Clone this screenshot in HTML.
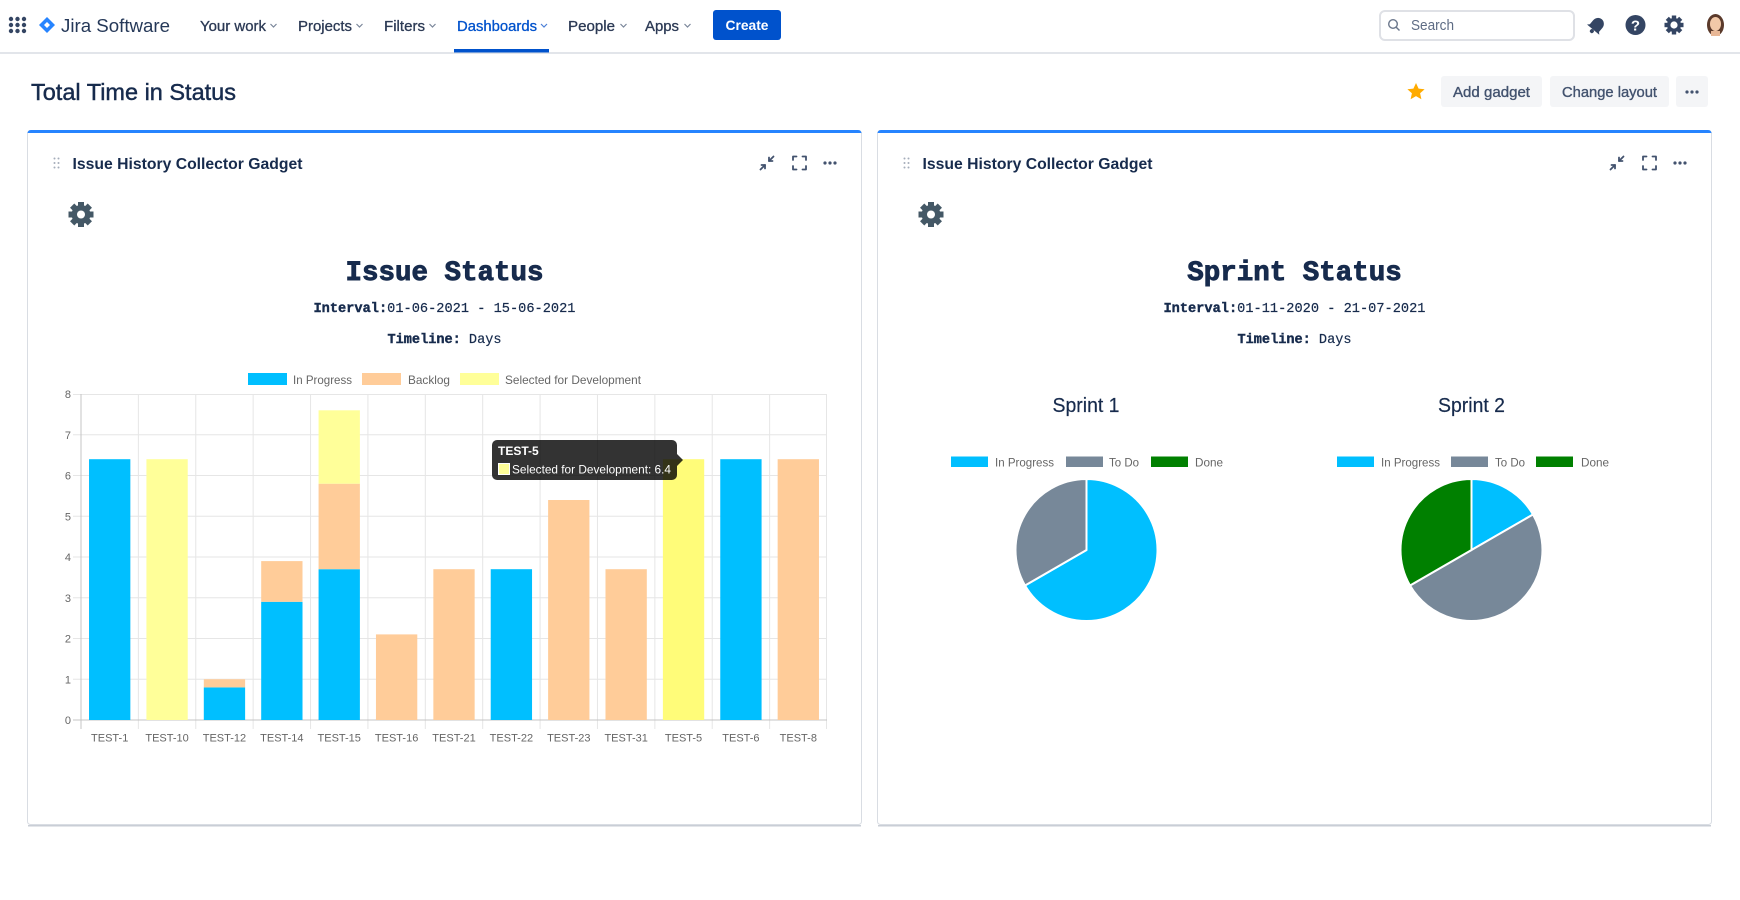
<!DOCTYPE html>
<html>
<head>
<meta charset="utf-8">
<style>
  html,body{margin:0;padding:0;background:#fff;}
  body{width:1740px;height:900px;overflow:hidden;}
  svg{display:block;}
  .sans{font-family:"Liberation Sans",Arial,sans-serif;}
  .mono{font-family:"Liberation Mono","Courier New",monospace;}
</style>
</head>
<body>
<svg width="1740" height="900" viewBox="0 0 1740 900" xmlns="http://www.w3.org/2000/svg">
  <rect x="0" y="0" width="1740" height="900" fill="#ffffff"/>

  <!-- ===== HEADER ===== -->
  <rect x="0" y="52" width="1740" height="2" fill="#e2e5ea"/>
  <g fill="#344563">
    <circle cx="11" cy="19" r="2.2"/><circle cx="17.5" cy="19" r="2.2"/><circle cx="24" cy="19" r="2.2"/>
    <circle cx="11" cy="25" r="2.2"/><circle cx="17.5" cy="25" r="2.2"/><circle cx="24" cy="25" r="2.2"/>
    <circle cx="11" cy="31" r="2.2"/><circle cx="17.5" cy="31" r="2.2"/><circle cx="24" cy="31" r="2.2"/>
  </g>
  <polygon points="47,17 55,25 47,33 39,25" fill="#2684ff"/>
  <polygon points="47,22 50,25 47,28 44,25" fill="#ffffff"/>
  <text class="sans" x="61" y="32" font-size="18.5" fill="#253858" textLength="109" lengthAdjust="spacingAndGlyphs">Jira Software</text>

  <g class="sans" font-size="14.5" fill="#2c3a55" stroke="#2c3a55" stroke-width="0.3">
    <text x="200" y="31" textLength="66" lengthAdjust="spacingAndGlyphs">Your work</text>
    <text x="298" y="31" textLength="54" lengthAdjust="spacingAndGlyphs">Projects</text>
    <text x="384" y="31" textLength="41" lengthAdjust="spacingAndGlyphs">Filters</text>
    <text x="568" y="31" textLength="47" lengthAdjust="spacingAndGlyphs">People</text>
    <text x="645" y="31" textLength="34" lengthAdjust="spacingAndGlyphs">Apps</text>
  </g>
  <text class="sans" x="457" y="31" font-size="14.5" fill="#0052cc" stroke="#0052cc" stroke-width="0.3" textLength="80" lengthAdjust="spacingAndGlyphs">Dashboards</text>
  <g fill="none" stroke="#7a869a" stroke-width="1.2">
    <polyline points="270.5,24 273.5,27 276.5,24"/>
    <polyline points="356.5,24 359.5,27 362.5,24"/>
    <polyline points="429.5,24 432.5,27 435.5,24"/>
    <polyline points="620.5,24 623.5,27 626.5,24"/>
    <polyline points="684.5,24 687.5,27 690.5,24"/>
  </g>
  <polyline points="541,24 544,27 547,24" fill="none" stroke="#4c7fd6" stroke-width="1.2"/>
  <rect x="454" y="49" width="95" height="3.5" fill="#0052cc"/>
  <rect x="713" y="10" width="68" height="30" rx="3" fill="#0052cc"/>
  <text class="sans" x="747" y="30" font-size="14" font-weight="bold" fill="#ffffff" text-anchor="middle" textLength="43" lengthAdjust="spacingAndGlyphs">Create</text>

  <rect x="1380" y="11" width="194" height="29" rx="5" fill="#ffffff" stroke="#dfe1e6" stroke-width="2"/>
  <circle cx="1393" cy="24" r="4.3" fill="none" stroke="#6b778c" stroke-width="1.4"/>
  <line x1="1396.2" y1="27.2" x2="1399.5" y2="30.5" stroke="#6b778c" stroke-width="1.5"/>
  <text class="sans" x="1411" y="30" font-size="15" fill="#5e6c84" textLength="43" lengthAdjust="spacingAndGlyphs">Search</text>
  <g transform="translate(1597,25) rotate(40)" fill="#344563">
    <path d="M-6,4 L-6,-1 A6,6.5 0 0 1 6,-1 L6,4 L8,6 L-8,6 Z"/>
    <circle cx="0" cy="8" r="2"/>
  </g>
  <circle cx="1635.5" cy="25" r="10" fill="#344563"/>
  <text class="sans" x="1635.5" y="30.5" font-size="15" font-weight="bold" fill="#ffffff" text-anchor="middle">?</text>
  <g transform="translate(1674,25)" fill="#344563">
    <circle r="7"/>
    <rect x="-2.2" y="-9.5" width="4.4" height="5"/>
    <rect x="-2.2" y="-9.5" width="4.4" height="5" transform="rotate(45)"/>
    <rect x="-2.2" y="-9.5" width="4.4" height="5" transform="rotate(90)"/>
    <rect x="-2.2" y="-9.5" width="4.4" height="5" transform="rotate(135)"/>
    <rect x="-2.2" y="-9.5" width="4.4" height="5" transform="rotate(180)"/>
    <rect x="-2.2" y="-9.5" width="4.4" height="5" transform="rotate(225)"/>
    <rect x="-2.2" y="-9.5" width="4.4" height="5" transform="rotate(270)"/>
    <rect x="-2.2" y="-9.5" width="4.4" height="5" transform="rotate(315)"/>
    <circle r="3.6" fill="#ffffff"/>
  </g>
  <ellipse cx="1715.5" cy="25" rx="8.5" ry="11" fill="#5b3a2b"/>
  <ellipse cx="1715.5" cy="24" rx="5.5" ry="7" fill="#f2c9a8"/>
  <rect x="1711" y="31" width="9" height="5" fill="#e8b796"/>

  <!-- ===== PAGE TITLE ROW ===== -->
  <text class="sans" x="31" y="100" font-size="23.5" fill="#172b4d" stroke="#172b4d" stroke-width="0.45" textLength="205" lengthAdjust="spacingAndGlyphs">Total Time in Status</text>
  <polygon points="1416,83 1418.6,88.6 1424.6,89.2 1420.1,93.2 1421.4,99.2 1416,96.1 1410.6,99.2 1411.9,93.2 1407.4,89.2 1413.4,88.6" fill="#ffab00"/>
  <rect x="1441" y="76" width="101" height="31" rx="3" fill="#f4f5f7"/>
  <text class="sans" x="1491.5" y="97" font-size="14.5" fill="#42526e" stroke="#42526e" stroke-width="0.35" text-anchor="middle" textLength="77" lengthAdjust="spacingAndGlyphs">Add gadget</text>
  <rect x="1550" y="76" width="119" height="31" rx="3" fill="#f4f5f7"/>
  <text class="sans" x="1609.5" y="97" font-size="14.5" fill="#42526e" stroke="#42526e" stroke-width="0.35" text-anchor="middle" textLength="95" lengthAdjust="spacingAndGlyphs">Change layout</text>
  <rect x="1676" y="76" width="32" height="31" rx="3" fill="#f4f5f7"/>
  <g fill="#42526e"><circle cx="1687" cy="92" r="1.6"/><circle cx="1692" cy="92" r="1.6"/><circle cx="1697" cy="92" r="1.6"/></g>

  <!-- ===== PANELS ===== -->
  <rect x="27.5" y="130.5" width="834" height="694" rx="3" fill="#ffffff" stroke="#d9dde3" stroke-width="1"/>
  <rect x="28" y="825" width="833" height="1.5" fill="#c9ced6"/>
  <path d="M27.5,134 Q27.5,130 31,130 L858,130 Q861.5,130 861.5,134 L861.5,133 L27.5,133 Z" fill="#2684ff"/>
  <rect x="877.5" y="130.5" width="834" height="694" rx="3" fill="#ffffff" stroke="#d9dde3" stroke-width="1"/>
  <rect x="878" y="825" width="833" height="1.5" fill="#c9ced6"/>
  <path d="M877.5,134 Q877.5,130 881,130 L1708,130 Q1711.5,130 1711.5,134 L1711.5,133 L877.5,133 Z" fill="#2684ff"/>

  <g id="phead">
    <g fill="#a5adba">
      <circle cx="54.5" cy="158.5" r="1"/><circle cx="58.5" cy="158.5" r="1"/>
      <circle cx="54.5" cy="163" r="1"/><circle cx="58.5" cy="163" r="1"/>
      <circle cx="54.5" cy="167.5" r="1"/><circle cx="58.5" cy="167.5" r="1"/>
    </g>
    <text class="sans" x="72.5" y="169" font-size="15.7" font-weight="bold" fill="#172b4d" textLength="230" lengthAdjust="spacingAndGlyphs">Issue History Collector Gadget</text>
    <g fill="none" stroke="#42526e" stroke-width="1.8" stroke-linecap="round" stroke-linejoin="round">
      <line x1="773.5" y1="156.5" x2="769" y2="161"/>
      <polyline points="769,157.5 769,161 772.5,161"/>
      <line x1="760.5" y1="169.5" x2="765" y2="165"/>
      <polyline points="761.5,165 765,165 765,168.5"/>
      <polyline points="793,160 793,156.5 796.5,156.5"/>
      <polyline points="802.5,156.5 806,156.5 806,160"/>
      <polyline points="806,166 806,169.5 802.5,169.5"/>
      <polyline points="796.5,169.5 793,169.5 793,166"/>
    </g>
    <g fill="#42526e"><circle cx="825" cy="163" r="1.6"/><circle cx="830" cy="163" r="1.6"/><circle cx="835" cy="163" r="1.6"/></g>
    <g transform="translate(81,214.5)" fill="#445866">
      <circle r="9.5"/>
      <rect x="-3" y="-12.5" width="6" height="6"/>
      <rect x="-3" y="-12.5" width="6" height="6" transform="rotate(45)"/>
      <rect x="-3" y="-12.5" width="6" height="6" transform="rotate(90)"/>
      <rect x="-3" y="-12.5" width="6" height="6" transform="rotate(135)"/>
      <rect x="-3" y="-12.5" width="6" height="6" transform="rotate(180)"/>
      <rect x="-3" y="-12.5" width="6" height="6" transform="rotate(225)"/>
      <rect x="-3" y="-12.5" width="6" height="6" transform="rotate(270)"/>
      <rect x="-3" y="-12.5" width="6" height="6" transform="rotate(315)"/>
      <circle r="4" fill="#ffffff"/>
    </g>
  </g>
  <use href="#phead" transform="translate(850,0)"/>

  <!-- ===== LEFT CHART ===== -->
  <text class="mono" x="444.5" y="280" font-size="27.5" font-weight="bold" fill="#172b4d" stroke="#172b4d" stroke-width="0.9" text-anchor="middle" textLength="198" lengthAdjust="spacingAndGlyphs">Issue Status</text>
  <text class="mono" x="444.5" y="312" font-size="13.6" fill="#172b4d" stroke="#172b4d" stroke-width="0.2" text-anchor="middle" textLength="262" lengthAdjust="spacingAndGlyphs"><tspan font-weight="bold" stroke-width="0.4">Interval:</tspan>01-06-2021 - 15-06-2021</text>
  <text class="mono" x="444.5" y="343" font-size="13.6" fill="#172b4d" stroke="#172b4d" stroke-width="0.2" text-anchor="middle" textLength="114" lengthAdjust="spacingAndGlyphs"><tspan font-weight="bold" stroke-width="0.4">Timeline:</tspan> Days</text>

  <rect x="248" y="373" width="39" height="12" fill="#00bfff"/>
  <text class="sans" x="293" y="384" font-size="11.8" fill="#666666" textLength="59" lengthAdjust="spacingAndGlyphs">In Progress</text>
  <rect x="362" y="373" width="39" height="12" fill="#ffcc99"/>
  <text class="sans" x="408" y="384" font-size="11.8" fill="#666666" textLength="42" lengthAdjust="spacingAndGlyphs">Backlog</text>
  <rect x="460" y="373" width="39" height="12" fill="#ffff99"/>
  <text class="sans" x="505" y="384" font-size="11.8" fill="#666666" textLength="136" lengthAdjust="spacingAndGlyphs">Selected for Development</text>

  <g stroke="#e6e6e6" stroke-width="1">
    <line x1="73" y1="394.5" x2="827" y2="394.5"/>
    <line x1="73" y1="434.75" x2="827" y2="434.75"/>
    <line x1="73" y1="475.5" x2="827" y2="475.5"/>
    <line x1="73" y1="516.25" x2="827" y2="516.25"/>
    <line x1="73" y1="557" x2="827" y2="557"/>
    <line x1="73" y1="597.75" x2="827" y2="597.75"/>
    <line x1="73" y1="638.5" x2="827" y2="638.5"/>
    <line x1="73" y1="679.25" x2="827" y2="679.25"/>
  </g>
  <g stroke="#e6e6e6" stroke-width="1">
    <line x1="138.38" y1="394" x2="138.38" y2="729"/>
    <line x1="195.77" y1="394" x2="195.77" y2="729"/>
    <line x1="253.15" y1="394" x2="253.15" y2="729"/>
    <line x1="310.54" y1="394" x2="310.54" y2="729"/>
    <line x1="367.92" y1="394" x2="367.92" y2="729"/>
    <line x1="425.31" y1="394" x2="425.31" y2="729"/>
    <line x1="482.69" y1="394" x2="482.69" y2="729"/>
    <line x1="540.08" y1="394" x2="540.08" y2="729"/>
    <line x1="597.46" y1="394" x2="597.46" y2="729"/>
    <line x1="654.85" y1="394" x2="654.85" y2="729"/>
    <line x1="712.23" y1="394" x2="712.23" y2="729"/>
    <line x1="769.62" y1="394" x2="769.62" y2="729"/>
    <line x1="826.5" y1="394" x2="826.5" y2="729"/>
  </g>
  <line x1="81" y1="394" x2="81" y2="729" stroke="#c4c4c4" stroke-width="1"/>
  <line x1="73" y1="720" x2="827" y2="720" stroke="#c4c4c4" stroke-width="1"/>

  <g class="sans" font-size="11" fill="#666666" text-anchor="end">
    <text x="71" y="398">8</text>
    <text x="71" y="438.75">7</text>
    <text x="71" y="479.5">6</text>
    <text x="71" y="520.25">5</text>
    <text x="71" y="561">4</text>
    <text x="71" y="601.75">3</text>
    <text x="71" y="642.5">2</text>
    <text x="71" y="683.25">1</text>
    <text x="71" y="724">0</text>
  </g>
  <g class="sans" font-size="11" fill="#666666" text-anchor="middle">
    <text x="109.69" y="741.5">TEST-1</text>
    <text x="167.08" y="741.5">TEST-10</text>
    <text x="224.46" y="741.5">TEST-12</text>
    <text x="281.85" y="741.5">TEST-14</text>
    <text x="339.23" y="741.5">TEST-15</text>
    <text x="396.62" y="741.5">TEST-16</text>
    <text x="454.0" y="741.5">TEST-21</text>
    <text x="511.38" y="741.5">TEST-22</text>
    <text x="568.77" y="741.5">TEST-23</text>
    <text x="626.15" y="741.5">TEST-31</text>
    <text x="683.54" y="741.5">TEST-5</text>
    <text x="740.92" y="741.5">TEST-6</text>
    <text x="798.31" y="741.5">TEST-8</text>
  </g>

  <g>
    <rect x="89.03" y="459.2" width="41.32" height="260.8" fill="#00bfff"/>
    <rect x="146.42" y="459.2" width="41.32" height="260.8" fill="#ffff99"/>
    <rect x="203.80" y="687.4" width="41.32" height="32.6" fill="#00bfff"/>
    <rect x="203.80" y="679.25" width="41.32" height="8.15" fill="#ffcc99"/>
    <rect x="261.19" y="601.8" width="41.32" height="118.2" fill="#00bfff"/>
    <rect x="261.19" y="561.1" width="41.32" height="40.7" fill="#ffcc99"/>
    <rect x="318.57" y="569.2" width="41.32" height="150.8" fill="#00bfff"/>
    <rect x="318.57" y="483.7" width="41.32" height="85.5" fill="#ffcc99"/>
    <rect x="318.57" y="410.3" width="41.32" height="73.4" fill="#ffff99"/>
    <rect x="375.96" y="634.4" width="41.32" height="85.6" fill="#ffcc99"/>
    <rect x="433.34" y="569.2" width="41.32" height="150.8" fill="#ffcc99"/>
    <rect x="490.72" y="569.2" width="41.32" height="150.8" fill="#00bfff"/>
    <rect x="548.11" y="500" width="41.32" height="220" fill="#ffcc99"/>
    <rect x="605.49" y="569.2" width="41.32" height="150.8" fill="#ffcc99"/>
    <rect x="662.88" y="459.2" width="41.32" height="260.8" fill="#fffc79"/>
    <rect x="720.26" y="459.2" width="41.32" height="260.8" fill="#00bfff"/>
    <rect x="777.65" y="459.2" width="41.32" height="260.8" fill="#ffcc99"/>
  </g>

  <rect x="492" y="440" width="185" height="40" rx="5" fill="rgba(0,0,0,0.8)"/>
  <polygon points="677,454 683,460 677,466" fill="rgba(0,0,0,0.8)"/>
  <text class="sans" x="498" y="455" font-size="12" font-weight="bold" fill="#ffffff">TEST-5</text>
  <rect x="498.5" y="463.5" width="11" height="11" fill="#ffff99" stroke="#ffffff" stroke-width="1"/>
  <text class="sans" x="512" y="473.5" font-size="12" fill="#ffffff" textLength="159" lengthAdjust="spacingAndGlyphs">Selected for Development: 6.4</text>

  <!-- ===== RIGHT CHART ===== -->
  <text class="mono" x="1294.5" y="280" font-size="27.5" font-weight="bold" fill="#172b4d" stroke="#172b4d" stroke-width="0.9" text-anchor="middle" textLength="214.5" lengthAdjust="spacingAndGlyphs">Sprint Status</text>
  <text class="mono" x="1294.5" y="312" font-size="13.6" fill="#172b4d" stroke="#172b4d" stroke-width="0.2" text-anchor="middle" textLength="262" lengthAdjust="spacingAndGlyphs"><tspan font-weight="bold" stroke-width="0.4">Interval:</tspan>01-11-2020 - 21-07-2021</text>
  <text class="mono" x="1294.5" y="343" font-size="13.6" fill="#172b4d" stroke="#172b4d" stroke-width="0.2" text-anchor="middle" textLength="114" lengthAdjust="spacingAndGlyphs"><tspan font-weight="bold" stroke-width="0.4">Timeline:</tspan> Days</text>

  <text class="sans" x="1086" y="412" font-size="20" fill="#172b4d" stroke="#172b4d" stroke-width="0.2" text-anchor="middle" textLength="67" lengthAdjust="spacingAndGlyphs">Sprint 1</text>
  <text class="sans" x="1471.5" y="412" font-size="20" fill="#172b4d" stroke="#172b4d" stroke-width="0.2" text-anchor="middle" textLength="67" lengthAdjust="spacingAndGlyphs">Sprint 2</text>

  <g class="sans" font-size="11.8" fill="#666666">
    <rect x="951" y="456.5" width="37" height="10.5" fill="#00bfff"/>
    <text x="995" y="466.5" textLength="59" lengthAdjust="spacingAndGlyphs">In Progress</text>
    <rect x="1066" y="456.5" width="37" height="10.5" fill="#778899"/>
    <text x="1109" y="466.5" textLength="30" lengthAdjust="spacingAndGlyphs">To Do</text>
    <rect x="1151" y="456.5" width="37" height="10.5" fill="#008000"/>
    <text x="1195" y="466.5" textLength="28" lengthAdjust="spacingAndGlyphs">Done</text>

    <rect x="1337" y="456.5" width="37" height="10.5" fill="#00bfff"/>
    <text x="1381" y="466.5" textLength="59" lengthAdjust="spacingAndGlyphs">In Progress</text>
    <rect x="1451" y="456.5" width="37" height="10.5" fill="#778899"/>
    <text x="1495" y="466.5" textLength="30" lengthAdjust="spacingAndGlyphs">To Do</text>
    <rect x="1536" y="456.5" width="37" height="10.5" fill="#008000"/>
    <text x="1581" y="466.5" textLength="28" lengthAdjust="spacingAndGlyphs">Done</text>
  </g>

  <g stroke="#ffffff" stroke-width="2" stroke-linejoin="round">
    <path d="M1086.5,550 L1086.5,479 A71,71 0 1 1 1025.01,585.5 Z" fill="#00bfff"/>
    <path d="M1086.5,550 L1025.01,585.5 A71,71 0 0 1 1086.5,479 Z" fill="#778899"/>
  </g>
  <g stroke="#ffffff" stroke-width="2" stroke-linejoin="round">
    <path d="M1471.5,550 L1471.5,479 A71,71 0 0 1 1532.99,514.5 Z" fill="#00bfff"/>
    <path d="M1471.5,550 L1532.99,514.5 A71,71 0 0 1 1410.01,585.5 Z" fill="#778899"/>
    <path d="M1471.5,550 L1410.01,585.5 A71,71 0 0 1 1471.5,479 Z" fill="#008000"/>
  </g>
</svg>
</body>
</html>
